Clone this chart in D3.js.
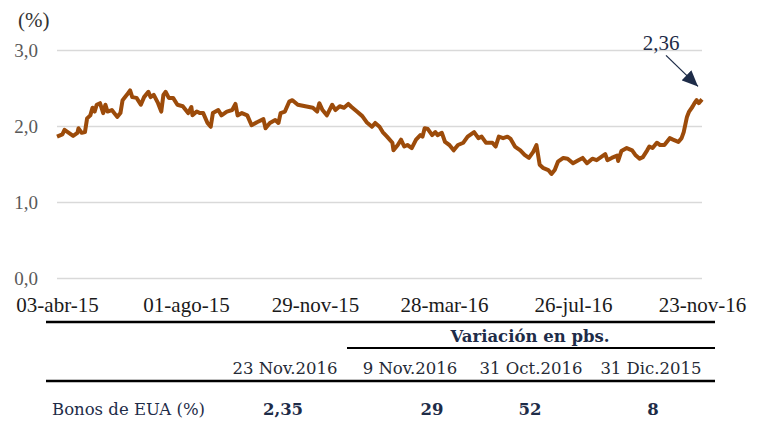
<!DOCTYPE html>
<html>
<head>
<meta charset="utf-8">
<script src="https://cdn.jsdelivr.net/npm/d3@7"></script>
<style>
  body { margin: 0; background: #fff; }
</style>
</head>
<body>
<div id="grafica"></div>
<script>
//----------------------------------------------------------------
// datos : rendimiento bonos de EUA (%), dias desde el 03-abr-15
//----------------------------------------------------------------
var inicio = new Date(2015, 3, 3);
var dias = [0,5,7,10,15,19,20,23,26,28,31,33,35,37,40,43,45,47,51,56,59,61,65,68,70,74,78,81,85,87,90,94,97,99,101,104,108,112,117,122,125,126,130,133,136,140,143,145,150,153,158,163,166,168,172,177,181,186,192,194,198,203,206,208,212,216,219,224,231,238,242,244,247,251,256,259,263,267,271,274,279,284,288,293,296,300,303,307,312,313,317,320,323,326,330,334,338,340,342,345,349,352,354,358,361,365,369,373,378,382,388,392,395,399,405,408,411,415,419,422,426,431,435,439,443,446,449,452,457,460,463,466,471,475,480,485,489,493,498,502,505,510,512,516,521,522,525,530,535,538,542,545,549,551,554,558,561,565,570,573,578,581,583,586,588,591,593,595,597,600];
var rendimientos = [1.86,1.89,1.95,1.92,1.87,1.91,1.97,1.91,1.92,2.10,2.14,2.24,2.19,2.28,2.30,2.17,2.28,2.19,2.21,2.12,2.17,2.34,2.41,2.47,2.38,2.37,2.28,2.38,2.45,2.38,2.41,2.30,2.19,2.41,2.45,2.37,2.37,2.28,2.26,2.17,2.25,2.14,2.19,2.17,2.17,2.04,1.99,2.17,2.21,2.14,2.19,2.21,2.29,2.14,2.17,2.14,2.01,2.05,2.09,1.97,2.04,2.08,2.04,2.17,2.19,2.32,2.34,2.28,2.26,2.24,2.19,2.30,2.21,2.14,2.28,2.21,2.26,2.24,2.29,2.25,2.19,2.13,2.05,1.99,2.04,1.99,1.92,1.86,1.78,1.68,1.75,1.82,1.73,1.75,1.71,1.82,1.88,1.86,1.97,1.96,1.88,1.92,1.88,1.91,1.79,1.75,1.68,1.75,1.78,1.86,1.92,1.84,1.86,1.78,1.78,1.73,1.86,1.84,1.86,1.83,1.73,1.68,1.62,1.58,1.66,1.75,1.49,1.45,1.42,1.37,1.42,1.53,1.58,1.57,1.51,1.55,1.58,1.51,1.57,1.55,1.58,1.63,1.55,1.58,1.61,1.54,1.67,1.71,1.68,1.62,1.57,1.59,1.68,1.73,1.71,1.78,1.75,1.75,1.84,1.82,1.79,1.84,1.92,2.12,2.19,2.25,2.30,2.34,2.30,2.35];

var diasEje = [0, 120, 240, 360, 480, 600];
var etiquetasX = ["03-abr-15", "01-ago-15", "29-nov-15", "28-mar-16", "26-jul-16", "23-nov-16"];
var ticksY = [0, 1, 2, 3];
var etiquetaUltimo = "2,36";

// tabla
var tituloVariacion = "Variación en pbs.";
var columnas = ["23 Nov.2016", "9 Nov.2016", "31 Oct.2016", "31 Dic.2015"];
var filaNombre = "Bonos de EUA (%)";
var filaValores = ["2,35", "29", "52", "8"];

//----------------------------------------------------------------
// svg
//----------------------------------------------------------------
var largeur = 761, hauteur = 423;
var svg = d3.select("#grafica")
  .append("svg")
  .attr("width", largeur)
  .attr("height", hauteur);

var serifGraf = "'Liberation Serif', serif";
var serifTabla = "'DejaVu Serif', serif";
var azul = "#1e2c48";

var x = d3.scaleTime()
  .domain([inicio, d3.timeDay.offset(inicio, 600)])
  .range([57, 702]);
var y = d3.scaleLinear()
  .domain([0, 3])
  .range([278, 50]);

//----------------------------------------------------------------
// lineas de division + etiquetas eje y
//----------------------------------------------------------------
var ejeY = svg.append("g")
  .attr("transform", "translate(57,0)")
  .call(d3.axisLeft(y)
    .tickValues(ticksY)
    .tickSize(-(702 - 57))
    .tickPadding(19)
    .tickFormat(function(d){ return d3.format(".1f")(d).replace(".", ","); }));
ejeY.select(".domain").remove();
ejeY.selectAll(".tick line")
  .attr("stroke", "#d9d9d9")
  .attr("stroke-width", 1.5);
ejeY.selectAll(".tick text")
  .attr("font-family", serifGraf)
  .attr("font-size", "19px")
  .attr("fill", "#595959")
  .attr("dy", "0.36em");

svg.append("text")
  .attr("x", 18)
  .attr("y", 27)
  .attr("font-family", serifGraf)
  .attr("font-size", "21px")
  .attr("fill", "#333")
  .text("(%)");

//----------------------------------------------------------------
// eje x
//----------------------------------------------------------------
var ejeX = svg.append("g")
  .attr("transform", "translate(0,278)")
  .call(d3.axisBottom(x)
    .tickValues(diasEje.map(function(d){ return d3.timeDay.offset(inicio, d); }))
    .tickSize(0)
    .tickPadding(19)
    .tickFormat(function(d, i){ return etiquetasX[i]; }));
ejeX.select(".domain").remove();
ejeX.selectAll(".tick text")
  .attr("font-family", serifGraf)
  .attr("font-size", "21px")
  .attr("fill", "#1a1a1a");

//----------------------------------------------------------------
// serie
//----------------------------------------------------------------
var datos = dias.map(function(d, i){
  return { fecha: d3.timeDay.offset(inicio, d), valor: rendimientos[i] };
});
var linea = d3.line()
  .x(function(d){ return x(d.fecha); })
  .y(function(d){ return y(d.valor); });

svg.append("path")
  .datum(datos)
  .attr("fill", "none")
  .attr("stroke", "#9c4b0a")
  .attr("stroke-width", 4)
  .attr("stroke-linejoin", "round")
  .attr("d", linea);

//----------------------------------------------------------------
// anotacion del ultimo dato
//----------------------------------------------------------------
var ultimo = datos[datos.length - 1];
var ux = x(ultimo.fecha), uy = y(ultimo.valor);

svg.append("defs").append("marker")
  .attr("id", "flecha")
  .attr("viewBox", "0 0 16 14")
  .attr("refX", 16).attr("refY", 7)
  .attr("markerWidth", 16).attr("markerHeight", 14)
  .attr("markerUnits", "userSpaceOnUse")
  .attr("orient", "auto")
  .append("path")
  .attr("d", "M0,0 L16,7 L0,14 z")
  .attr("fill", azul);

svg.append("line")
  .attr("x1", ux - 36).attr("y1", uy - 44)
  .attr("x2", ux - 4).attr("y2", uy - 13)
  .attr("stroke", azul)
  .attr("stroke-width", 1.3)
  .attr("marker-end", "url(#flecha)");

svg.append("text")
  .attr("x", ux - 41)
  .attr("y", uy - 49)
  .attr("text-anchor", "middle")
  .attr("font-family", serifGraf)
  .attr("font-size", "21px")
  .attr("fill", azul)
  .text(etiquetaUltimo);

//----------------------------------------------------------------
// tabla
//----------------------------------------------------------------
var centrosCol = [285, 410, 531, 651];
var centrosVal = [283, 432, 530, 653];
var tabla = svg.append("g");

tabla.append("line")
  .attr("x1", 46).attr("x2", 715).attr("y1", 322).attr("y2", 322)
  .attr("stroke", "#000").attr("stroke-width", 2.5);
tabla.append("line")
  .attr("x1", 347).attr("x2", 715).attr("y1", 348).attr("y2", 348)
  .attr("stroke", "#000").attr("stroke-width", 2);
tabla.append("line")
  .attr("x1", 46).attr("x2", 715).attr("y1", 381).attr("y2", 381)
  .attr("stroke", "#000").attr("stroke-width", 2.5);

tabla.append("text")
  .attr("x", 530).attr("y", 342)
  .attr("text-anchor", "middle")
  .attr("font-family", serifTabla)
  .attr("font-size", "16.5px")
  .attr("font-weight", "bold")
  .attr("fill", azul)
  .text(tituloVariacion);

tabla.selectAll(".col")
  .data(columnas)
  .enter()
  .append("text")
  .attr("class", "col")
  .attr("x", function(d, i){ return centrosCol[i]; })
  .attr("y", 374)
  .attr("text-anchor", "middle")
  .attr("font-family", serifTabla)
  .attr("font-size", "16.5px")
  .attr("fill", "#262b36")
  .text(function(d){ return d; });

tabla.append("text")
  .attr("x", 52).attr("y", 415)
  .attr("font-family", serifTabla)
  .attr("font-size", "16.5px")
  .attr("fill", azul)
  .text(filaNombre);

tabla.selectAll(".val")
  .data(filaValores)
  .enter()
  .append("text")
  .attr("class", "val")
  .attr("x", function(d, i){ return centrosVal[i]; })
  .attr("y", 415)
  .attr("text-anchor", "middle")
  .attr("font-family", serifTabla)
  .attr("font-size", "16.5px")
  .attr("font-weight", "bold")
  .attr("fill", azul)
  .text(function(d){ return d; });
</script>
</body>
</html>
